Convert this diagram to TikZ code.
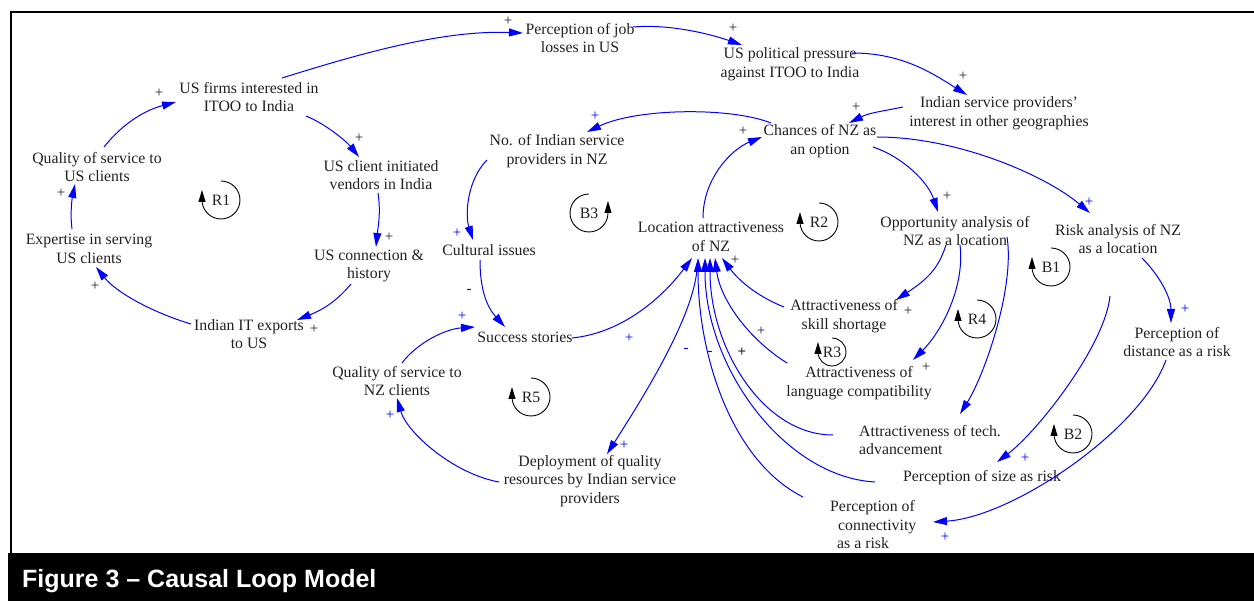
\documentclass[tikz,border=0pt]{standalone}
\usepackage{fontspec}
\setmainfont{Liberation Serif}
\newfontfamily\titlefont{Liberation Sans}
\usetikzlibrary{arrows.meta,calc}
\definecolor{lnk}{RGB}{0,0,255}
\definecolor{ink}{RGB}{35,31,32}
\tikzset{
  var/.style={align=center, inner sep=0pt, text=ink, font=\fontsize{15.8}{18.5}\selectfont},
  link/.style={draw=lnk, line width=1pt, -{Triangle[length=14pt,width=8pt]}},
  sgn/.style={inner sep=0pt, text=ink, font=\fontsize{15}{15}\selectfont},
  sgnb/.style={sgn, text=lnk},
  loopline/.style={draw=black, line width=0.9pt, -{Triangle[length=12pt,width=7pt]}},
}
\newcommand\mycwloop[5]{%
  \node[var] (#1) at (#2,#3) {#4};
  \draw[loopline] ($(#1)+(0,-#5)$) arc[start angle=-90, end angle=180, radius=#5] -- ++(0,-10);
}
\newcommand\myccwloop[5]{%
  \node[var] (#1) at (#2,#3) {#4};
  \draw[loopline] ($(#1)+(0,-#5)$) arc[start angle=-90, end angle=-360, radius=#5] -- ++(0,-12);
}
\begin{document}
\begin{tikzpicture}[x=1pt, y=-1pt]
\useasboundingbox (0,0) rectangle (1254,601);
% frame and title bar
\draw[line width=2.5pt] (11,553) -- (11,12) -- (1254,12);
\fill[black] (8,553) rectangle (1254,601);
\node[anchor=base west, inner sep=0pt, text=white, font=\titlefont\bfseries\fontsize{25}{25}\selectfont] (title) at (22,587) {Figure 3 – Causal Loop Model};

% variables
\node[var] (job) at (580,38) {Perception of job\\losses in US};
\node[var] (pol) at (790,64) {US political pressure\\against ITOO to India};
\node[var] (isp) at (999,113) {Indian service providers’\\interest in other geographies};
\node[var] (chn) at (820,141) {Chances of NZ as\\an option};
\node[var] (noi) at (557,151) {No. of Indian service\\providers in NZ};
\node[var] (usf) at (249,97) {US firms interested in\\ITOO to India};
\node[var] (ucv) at (381,175) {US client initiated\\vendors in India};
\node[var] (qus) at (97,167) {Quality of service to\\US clients};
\node[var] (exp) at (89,249) {Expertise in serving\\US clients};
\node[var] (ucn) at (369,266) {US connection \&\\history};
\node[var] (iit) at (249,334) {Indian IT exports\\to US};
\node[var] (cul) at (489,250) {Cultural issues};
\node[var] (suc) at (525,337) {Success stories};
\node[var] (loc) at (711,237) {Location attractiveness\\of NZ};
\node[var] (opp) at (955,231) {Opportunity analysis of\\NZ as a location};
\node[var] (rsk) at (1118,239) {Risk analysis of NZ\\as a location};
\node[var] (dst) at (1177,342) {Perception of\\distance as a risk};
\node[var] (skl) at (844,316) {Attractiveness of\\skill shortage};
\node[var] (lng) at (859,383) {Attractiveness of\\language compatibility};
\node[var, align=left, anchor=west] (tch) at (859,440) {Attractiveness of tech.\\advancement};
\node[var] (siz) at (982,478) {Perception of size as risk};
\node[var, align=left, anchor=west] (con) at (830,525) {Perception of\\\hspace*{8pt}connectivity\\\hspace*{7pt}as a risk};
\node[var] (qnz) at (397,381) {Quality of service to\\NZ clients};
\node[var] (dep) at (590,481) {Deployment of quality\\resources by Indian service\\providers};

% loops
\mycwloop{R1}{221}{200}{R1}{19}
\myccwloop{B3}{589}{213}{B3}{19}
\mycwloop{R2}{819}{222}{R2}{19}
\mycwloop{R3}{832}{352}{R3}{14}
\mycwloop{R4}{977}{319}{R4}{19}
\mycwloop{B1}{1051}{267}{B1}{19}
\mycwloop{R5}{531}{397}{R5}{19}
\mycwloop{B2}{1073}{434}{B2}{19}

% links
\draw[link] ($(usf)+(33,-19)$) .. controls +(80,-25) and +(-80,-3) .. ($(job)+(-57,-5)$);
\draw[link] ($(job)+(53,-11)$) .. controls +(35,-3) and +(-35,-12) .. ($(pol)+(-48,-19)$);
\draw[link] ($(pol)+(62,-11)$) .. controls +(50,0) and +(-35,-22) .. ($(isp)+(-32,-18)$);
\draw[link] ($(isp)+(-96,-6)$) .. controls +(-25,5) and +(20,-10) .. ($(chn)+(29,-18)$);
\draw[link] ($(chn)+(-49,-18)$) .. controls +(-40,-16) and +(50,-24) .. ($(noi)+(30,-19)$);
\draw[link] ($(loc)+(-8,-19)$) .. controls +(0,-40) and +(-30,12) .. ($(chn)+(-58,-4)$);
\draw[link] ($(chn)+(53,6)$) .. controls +(30,10) and +(-10,-30) .. ($(opp)+(-17,-19)$);
\draw[link] ($(chn)+(57,-4)$) .. controls +(80,0) and +(-45,-38) .. ($(rsk)+(-28,-26)$);
\draw[link] ($(noi)+(-70,9)$) .. controls +(-20,20) and +(-8,-25) .. ($(cul)+(-16,-10)$);
\draw[link] ($(cul)+(-9,10)$) .. controls +(0,30) and +(-18,-20) .. ($(suc)+(-20,-10)$);
\draw[link] ($(qnz)+(5,-18)$) .. controls +(15,-20) and +(-30,2) .. ($(suc)+(-50,-10)$);
\draw[link] ($(suc)+(47,1)$) .. controls +(50,-5) and +(-30,40) .. ($(loc)+(-19,21)$);
\draw[link] ($(loc)+(-14,33)$) .. controls +(-5,50) and +(35,-55) .. ($(dep)+(17,-27)$);
\draw[link] ($(dep)+(-91,1)$) .. controls +(-45,-8) and +(10,35) .. ($(qnz)+(0,17)$);
\draw[link] ($(skl)+(-60,-9)$) .. controls +(-30,-12) and +(15,20) .. ($(loc)+(11,21)$);
\draw[link] ($(lng)+(-72,-20)$) .. controls +(-40,-25) and +(5,40) .. ($(loc)+(4,21)$);
\draw[link] ($(tch.west)+(-26,-5)$) .. controls +(-70,0) and +(0,90) .. ($(loc)+(-1,21)$);
\draw[link] ($(siz)+(-107,4)$) .. controls +(-90,-5) and +(0,110) .. ($(loc)+(-6,21)$);
\draw[link] ($(con.west)+(-27,-28)$) .. controls +(-70,-35) and +(0,100) .. ($(loc)+(-13,21)$);
\draw[link] ($(opp)+(-9,14)$) .. controls +(-8,25) and +(30,-20) .. ($(skl)+(52,-16)$);
\draw[link] ($(opp)+(5,14)$) .. controls +(5,40) and +(30,-30) .. ($(lng)+(54,-23)$);
\draw[link] ($(opp)+(52,6)$) .. controls +(8,50) and +(25,-40) .. ($(tch.west)+(101,-26)$);
\draw[link] ($(rsk)+(24,19)$) .. controls +(18,18) and +(0,-25) .. ($(dst)+(-6,-19)$);
\draw[link] ($(rsk)+(-8,57)$) .. controls +(-5,50) and +(40,-30) .. ($(siz)+(15,-16)$);
\draw[link] ($(dst)+(-11,18)$) .. controls +(-25,70) and +(80,-5) .. ($(con.west)+(103,-3)$);
\draw[link] ($(usf)+(57,19)$) .. controls +(20,8) and +(-12,-15) .. ($(ucv)+(-22,-18)$);
\draw[link] ($(ucv)+(-3,18)$) .. controls +(3,20) and +(2,-20) .. ($(ucn)+(7,-19)$);
\draw[link] ($(ucn)+(-18,18)$) .. controls +(-15,18) and +(25,-10) .. ($(iit)+(48,-14)$);
\draw[link] ($(iit)+(-58,-10)$) .. controls +(-40,-12) and +(20,25) .. ($(exp)+(7,18)$);
\draw[link] ($(exp)+(-17,-20)$) .. controls +(-2,-15) and +(-3,15) .. ($(qus)+(-22,17)$);
\draw[link] ($(qus)+(7,-20)$) .. controls +(20,-25) and +(-30,8) .. ($(usf)+(-73,5)$);

% polarity signs
\node[sgn] (p1) at (508,21) {+};
\node[sgn] (p2) at (733,28) {+};
\node[sgn] (p3) at (963,76) {+};
\node[sgn] (p4) at (856,107) {+};
\node[sgn] (p5) at (743,131) {+};
\node[sgn] (p6) at (947,196) {+};
\node[sgn] (p7) at (735,260) {+};
\node[sgn] (p8) at (761,331) {+};
\node[sgn] (p9) at (908,311) {+};
\node[sgn] (p10) at (926,367) {+};
\node[sgn] (p11) at (359,138) {+};
\node[sgn] (p12) at (389,237) {+};
\node[sgn] (p13) at (314,329) {+};
\node[sgn] (p14) at (95,286) {+};
\node[sgn] (p15) at (61,193) {+};
\node[sgn] (p16) at (159,93) {+};
\node[sgn, font=\bfseries\fontsize{15}{15}\selectfont] (p17) at (742,352) {+};
\node[sgnb] (p18) at (595,116) {+};
\node[sgnb] (p19) at (1089,202) {+};
\node[sgnb] (p20) at (457,233) {+};
\node[sgnb] (p21) at (462,316) {+};
\node[sgnb] (p22) at (629,338) {+};
\node[sgnb] (p23) at (624,445) {+};
\node[sgnb] (p24) at (390,415) {+};
\node[sgnb] (p25) at (1185,309) {+};
\node[sgnb] (p26) at (1025,458) {+};
\node[sgnb] (p27) at (945,537) {+};
\node[sgnb] (m1) at (469,291) {-};
\node[sgnb] (m2) at (686,350) {-};
\node[sgnb] (m3) at (710,353) {-};
\end{tikzpicture}
\end{document}
